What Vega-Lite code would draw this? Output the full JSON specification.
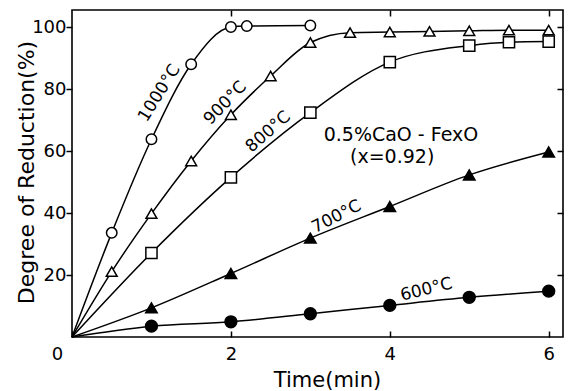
{
  "$schema": "https://vega.github.io/schema/vega-lite/v6.json",
  "width": 491,
  "height": 327,
  "autosize": {"type": "none"},
  "padding": {"left": 72, "top": 10, "right": 5, "bottom": 54},
  "background": "white",
  "config": {
    "view": {"stroke": "black", "strokeWidth": 1.6},
    "font": "DejaVu Sans",
    "axis": {
      "domain": false,
      "grid": false,
      "tickColor": "black",
      "tickWidth": 1.5,
      "labelColor": "black",
      "titleColor": "black",
      "labelFont": "DejaVu Sans",
      "titleFont": "DejaVu Sans",
      "labelFontSize": 18,
      "titleFontSize": 21,
      "titleFontWeight": "normal"
    }
  },
  "datasets": {
    "curves": [
      {"series": "1000", "t": 0, "r": 0},
      {"series": "1000", "t": 0.5, "r": 33.6},
      {"series": "1000", "t": 1, "r": 63.8},
      {"series": "1000", "t": 1.5, "r": 88.0},
      {"series": "1000", "t": 2, "r": 100.0},
      {"series": "1000", "t": 2.2, "r": 100.3},
      {"series": "1000", "t": 3, "r": 100.5},
      {"series": "900", "t": 0, "r": 0},
      {"series": "900", "t": 0.5, "r": 21.1},
      {"series": "900", "t": 1, "r": 39.8},
      {"series": "900", "t": 1.5, "r": 56.8},
      {"series": "900", "t": 2, "r": 71.7},
      {"series": "900", "t": 2.5, "r": 84.2},
      {"series": "900", "t": 3, "r": 95.0},
      {"series": "900", "t": 3.5, "r": 98.2},
      {"series": "900", "t": 4, "r": 98.4},
      {"series": "900", "t": 4.5, "r": 98.6},
      {"series": "900", "t": 5, "r": 98.8},
      {"series": "900", "t": 5.5, "r": 99.0},
      {"series": "900", "t": 6, "r": 99.0},
      {"series": "800", "t": 0, "r": 0},
      {"series": "800", "t": 1, "r": 27.1},
      {"series": "800", "t": 2, "r": 51.5},
      {"series": "800", "t": 3, "r": 72.4},
      {"series": "800", "t": 4, "r": 88.7},
      {"series": "800", "t": 5, "r": 94.0},
      {"series": "800", "t": 5.5, "r": 95.1},
      {"series": "800", "t": 6, "r": 95.3},
      {"series": "700", "t": 0, "r": 0},
      {"series": "700", "t": 1, "r": 9.4},
      {"series": "700", "t": 2, "r": 20.5},
      {"series": "700", "t": 3, "r": 31.9},
      {"series": "700", "t": 4, "r": 42.1},
      {"series": "700", "t": 5, "r": 52.3},
      {"series": "700", "t": 6, "r": 59.7},
      {"series": "600", "t": 0, "r": 0},
      {"series": "600", "t": 1, "r": 3.5},
      {"series": "600", "t": 2, "r": 4.9},
      {"series": "600", "t": 3, "r": 7.5},
      {"series": "600", "t": 4, "r": 10.2},
      {"series": "600", "t": 5, "r": 12.8},
      {"series": "600", "t": 6, "r": 14.8}
    ],
    "labels": [
      {"key": "1000", "label": "1000°C", "t": 1.10, "r": 78.7},
      {"key": "900", "label": "900°C", "t": 1.93, "r": 75.5},
      {"key": "800", "label": "800°C", "t": 2.47, "r": 66.2},
      {"key": "700", "label": "700°C", "t": 3.33, "r": 38.8},
      {"key": "600", "label": "600°C", "t": 4.46, "r": 15.3},
      {"key": "note", "label": "0.5%CaO - FexO", "t": 4.14, "r": 65.2},
      {"key": "note", "label": "(x=0.92)", "t": 4.03, "r": 58.1}
    ]
  },
  "layer": [
    {
      "data": {"name": "curves"},
      "mark": {"type": "line", "interpolate": "monotone", "color": "black", "strokeWidth": 1.5},
      "encoding": {
        "x": {
          "field": "t", "type": "quantitative",
          "scale": {"domain": [0, 6.18], "nice": false, "zero": false},
          "axis": {
            "orient": "bottom", "values": [0, 2, 4, 6], "tickSize": -6,
            "labelPadding": 14, "labelFlush": false,
            "labelOffset": {"expr": "datum.value === 0 ? -15 : 0"},
            "title": "Time(min)", "titleX": 255, "titleY": 43,
            "titleAlign": "center", "titleBaseline": "middle"
          }
        },
        "y": {
          "field": "r", "type": "quantitative",
          "scale": {"domain": [0, 105.5], "nice": false, "zero": false},
          "axis": {
            "orient": "left", "values": [20, 40, 60, 80, 100], "tickSize": 6,
            "labelPadding": 0,
            "title": "Degree of Reduction(%)", "titleAngle": -90, "titleFontSize": 22,
            "titleX": -46, "titleY": 162, "titleAlign": "center", "titleBaseline": "middle"
          }
        },
        "detail": {"field": "series"}
      }
    },
    {
      "data": {"name": "curves"},
      "transform": [{"filter": "datum.t > 0"}],
      "mark": {"type": "point", "filled": true, "stroke": "black", "strokeWidth": 1.5, "opacity": 1},
      "encoding": {
        "x": {
          "field": "t", "type": "quantitative",
          "axis": {"orient": "top", "values": [2, 4, 6], "tickSize": -6, "labels": false, "title": null}
        },
        "y": {
          "field": "r", "type": "quantitative",
          "axis": {"orient": "right", "values": [20, 40, 60, 80, 100], "tickSize": -6, "labels": false, "title": null}
        },
        "shape": {
          "field": "series", "type": "nominal",
          "scale": {"domain": ["1000", "900", "800", "700", "600"], "range": ["circle", "triangle-up", "square", "triangle-up", "circle"]},
          "legend": null
        },
        "fill": {
          "field": "series", "type": "nominal",
          "scale": {"domain": ["1000", "900", "800", "700", "600"], "range": ["white", "white", "white", "black", "black"]},
          "legend": null
        },
        "size": {
          "field": "series", "type": "nominal",
          "scale": {"domain": ["1000", "900", "800", "700", "600"], "range": [110, 140, 110, 140, 100]},
          "legend": null
        }
      }
    },
    {
      "data": {"name": "labels"},
      "transform": [{"filter": "datum.key === '1000'"}],
      "mark": {"type": "text", "angle": 302, "fontSize": 17, "color": "black", "align": "center", "baseline": "middle"},
      "encoding": {
        "x": {"field": "t", "type": "quantitative", "axis": null},
        "y": {"field": "r", "type": "quantitative", "axis": null},
        "text": {"field": "label"}
      }
    },
    {
      "data": {"name": "labels"},
      "transform": [{"filter": "datum.key === '900'"}],
      "mark": {"type": "text", "angle": 314, "fontSize": 17, "color": "black", "align": "center", "baseline": "middle"},
      "encoding": {
        "x": {"field": "t", "type": "quantitative", "axis": null},
        "y": {"field": "r", "type": "quantitative", "axis": null},
        "text": {"field": "label"}
      }
    },
    {
      "data": {"name": "labels"},
      "transform": [{"filter": "datum.key === '800'"}],
      "mark": {"type": "text", "angle": 319, "fontSize": 17, "color": "black", "align": "center", "baseline": "middle"},
      "encoding": {
        "x": {"field": "t", "type": "quantitative", "axis": null},
        "y": {"field": "r", "type": "quantitative", "axis": null},
        "text": {"field": "label"}
      }
    },
    {
      "data": {"name": "labels"},
      "transform": [{"filter": "datum.key === '700'"}],
      "mark": {"type": "text", "angle": 333, "fontSize": 17, "color": "black", "align": "center", "baseline": "middle"},
      "encoding": {
        "x": {"field": "t", "type": "quantitative", "axis": null},
        "y": {"field": "r", "type": "quantitative", "axis": null},
        "text": {"field": "label"}
      }
    },
    {
      "data": {"name": "labels"},
      "transform": [{"filter": "datum.key === '600'"}],
      "mark": {"type": "text", "angle": 346, "fontSize": 17, "color": "black", "align": "center", "baseline": "middle"},
      "encoding": {
        "x": {"field": "t", "type": "quantitative", "axis": null},
        "y": {"field": "r", "type": "quantitative", "axis": null},
        "text": {"field": "label"}
      }
    },
    {
      "data": {"name": "labels"},
      "transform": [{"filter": "datum.key === 'note'"}],
      "mark": {"type": "text", "fontSize": 19, "color": "black", "align": "center", "baseline": "middle"},
      "encoding": {
        "x": {"field": "t", "type": "quantitative", "axis": null},
        "y": {"field": "r", "type": "quantitative", "axis": null},
        "text": {"field": "label"}
      }
    }
  ],
  "resolve": {"axis": {"x": "independent", "y": "independent"}}
}
